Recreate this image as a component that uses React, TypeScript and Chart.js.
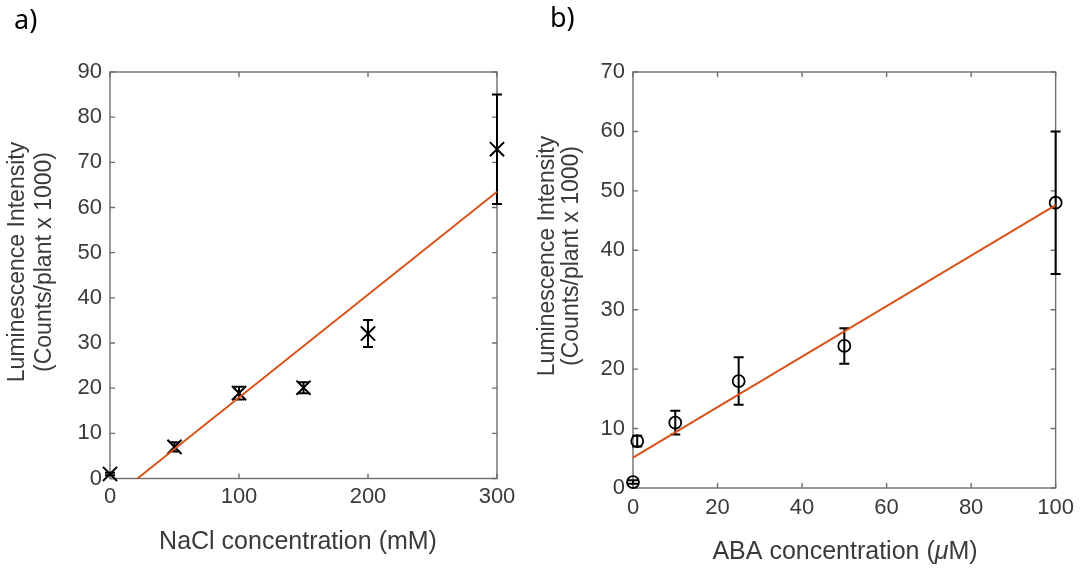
import React, { useEffect, useRef } from "react";
import { Chart, registerables } from "chart.js";
Chart.register(...registerables);

// ---------- Panel a) NaCl ----------
const naclConc = [0, 50, 100, 150, 200, 300];
const naclLum = [1.0, 7.0, 18.9, 20.1, 32.1, 72.9];
const naclErr = [0.3, 1.0, 1.4, 1.2, 3.0, 12.1];
const naclFitX = [21.3, 300];
const naclFitY = [0, 63.5];
const naclXTicks = [0, 100, 200, 300];
const naclYTicks = [0, 10, 20, 30, 40, 50, 60, 70, 80, 90];

// ---------- Panel b) ABA ----------
const abaConc = [0, 1, 10, 25, 50, 100];
const abaLum = [1.0, 7.9, 11.0, 18.0, 23.9, 48.0];
const abaErr = [0.3, 0.9, 2.0, 4.0, 3.0, 12.0];
const abaFitX = [0, 100];
const abaFitY = [5.1, 47.6];
const abaXTicks = [0, 20, 40, 60, 80, 100];
const abaYTicks = [0, 10, 20, 30, 40, 50, 60, 70];

const yTitleLines = ["Luminescence Intensity", "(Counts/plant x 1000)"];

const FONT = "'Liberation Sans', Arial, Helvetica, sans-serif";
const AXIS_COLOR = "#6e6e6e";
const TEXT_COLOR = "#3a3a3a";
const FIT_COLOR = "#D95319";

type Part = { text: string; italic?: boolean };

type PanelCfg = {
  xs: number[];
  ys: number[];
  errs: number[];
  fitX: number[];
  fitY: number[];
  xTicks: number[];
  yTicks: number[];
  xMax: number;
  yMax: number;
  marker: string;
  markerRadius: number;
  markerWidth: number;
  padTop: number;
  padRight: number;
  yWidth: number;
  xHeight: number;
  xTickPad: number;
  panelLabel: string;
  panelPos: [number, number];
  yTitlePos: [number, number, number];
  xTitle: Part[];
  xTitlePos: [number, number];
};

function drawRich(ctx: CanvasRenderingContext2D, parts: Part[], cx: number, y: number, size: number) {
  const fontFor = (p: Part) => `${p.italic ? "italic " : ""}${size}px ${FONT}`;
  let total = 0;
  const widths = parts.map((p) => {
    ctx.font = fontFor(p);
    const w = ctx.measureText(p.text).width;
    total += w;
    return w;
  });
  let x = cx - total / 2;
  ctx.textAlign = "left";
  parts.forEach((p, i) => {
    ctx.font = fontFor(p);
    ctx.fillText(p.text, x, y);
    x += widths[i];
  });
}

function makeChart(canvas: HTMLCanvasElement, c: PanelCfg) {
  const tickFont = { family: FONT, size: 22 };
  const decorPlugin = {
    id: "decor",
    beforeDatasetsDraw(chart: any) {
      const { ctx, chartArea } = chart;
      const { left, right, top, bottom } = chartArea;
      const xs = chart.scales.x;
      const ys = chart.scales.y;
      ctx.save();
      ctx.strokeStyle = AXIS_COLOR;
      ctx.lineWidth = 1.4;
      ctx.strokeRect(left, top, right - left, bottom - top);
      const tl = 5;
      ctx.beginPath();
      xs.ticks.forEach((t: any) => {
        const px = xs.getPixelForValue(t.value);
        ctx.moveTo(px, bottom);
        ctx.lineTo(px, bottom - tl);
        ctx.moveTo(px, top);
        ctx.lineTo(px, top + tl);
      });
      ys.ticks.forEach((t: any) => {
        const py = ys.getPixelForValue(t.value);
        ctx.moveTo(left, py);
        ctx.lineTo(left + tl, py);
        ctx.moveTo(right, py);
        ctx.lineTo(right - tl, py);
      });
      ctx.stroke();
      // error bars
      ctx.strokeStyle = "#000";
      ctx.lineWidth = 2;
      const cap = 5;
      ctx.beginPath();
      c.xs.forEach((xv, i) => {
        const px = xs.getPixelForValue(xv);
        const hi = ys.getPixelForValue(c.ys[i] + c.errs[i]);
        const lo = ys.getPixelForValue(c.ys[i] - c.errs[i]);
        ctx.moveTo(px, hi);
        ctx.lineTo(px, lo);
        ctx.moveTo(px - cap, hi);
        ctx.lineTo(px + cap, hi);
        ctx.moveTo(px - cap, lo);
        ctx.lineTo(px + cap, lo);
      });
      ctx.stroke();
      ctx.restore();
    },
    afterDraw(chart: any) {
      const { ctx } = chart;
      ctx.save();
      ctx.fillStyle = "#000";
      ctx.font = `27px 'Noto Sans', 'Open Sans', sans-serif`;
      ctx.textAlign = "left";
      ctx.textBaseline = "middle";
      ctx.fillText(c.panelLabel, c.panelPos[0], c.panelPos[1]);

      ctx.fillStyle = TEXT_COLOR;
      ctx.font = `23px ${FONT}`;
      ctx.textAlign = "center";
      ctx.textBaseline = "middle";
      const [x1, x2, yc] = c.yTitlePos;
      [x1, x2].forEach((xx, i) => {
        ctx.save();
        ctx.translate(xx, yc);
        ctx.rotate(-Math.PI / 2);
        ctx.fillText(yTitleLines[i], 0, 0);
        ctx.restore();
      });
      ctx.textBaseline = "alphabetic";
      drawRich(ctx, c.xTitle, c.xTitlePos[0], c.xTitlePos[1], 25);
      ctx.restore();
    },
  };

  return new Chart(canvas, {
    type: "scatter",
    data: {
      datasets: [
        {
          type: "line",
          data: c.fitX.map((x, i) => ({ x, y: c.fitY[i] })),
          borderColor: FIT_COLOR,
          borderWidth: 2,
          pointRadius: 0,
          fill: false,
          clip: false,
        } as any,
        {
          type: "scatter",
          data: c.xs.map((x, i) => ({ x, y: c.ys[i] })),
          pointStyle: c.marker,
          pointRadius: c.markerRadius,
          pointBorderColor: "#000",
          pointBackgroundColor: "rgba(0,0,0,0)",
          pointBorderWidth: c.markerWidth,
          clip: false,
        } as any,
      ],
    },
    options: {
      responsive: false,
      animation: false,
      events: [],
      layout: { padding: { left: 0, top: c.padTop, right: c.padRight, bottom: 0 } },
      plugins: { legend: { display: false }, tooltip: { enabled: false } },
      scales: {
        x: {
          type: "linear",
          min: 0,
          max: c.xMax,
          grid: { display: false, drawTicks: false },
          border: { display: false },
          afterBuildTicks: (s: any) => {
            s.ticks = c.xTicks.map((v) => ({ value: v }));
          },
          afterFit: (s: any) => {
            s.height = c.xHeight;
          },
          ticks: { font: tickFont, color: TEXT_COLOR, padding: c.xTickPad, maxRotation: 0, autoSkip: false },
        },
        y: {
          type: "linear",
          min: 0,
          max: c.yMax,
          grid: { display: false, drawTicks: false },
          border: { display: false },
          afterBuildTicks: (s: any) => {
            s.ticks = c.yTicks.map((v) => ({ value: v }));
          },
          afterFit: (s: any) => {
            s.width = c.yWidth;
          },
          ticks: { font: tickFont, color: TEXT_COLOR, padding: 8, autoSkip: false },
        },
      },
    } as any,
    plugins: [decorPlugin],
  });
}

const panelA: PanelCfg = {
  xs: naclConc,
  ys: naclLum,
  errs: naclErr,
  fitX: naclFitX,
  fitY: naclFitY,
  xTicks: naclXTicks,
  yTicks: naclYTicks,
  xMax: 300,
  yMax: 90,
  marker: "crossRot",
  markerRadius: 10,
  markerWidth: 2,
  padTop: 72,
  padRight: 33,
  yWidth: 110,
  xHeight: 90.5,
  xTickPad: 5,
  panelLabel: "a)",
  panelPos: [14, 21],
  yTitlePos: [18, 44.5, 262],
  xTitle: [{ text: "NaCl concentration (mM)" }],
  xTitlePos: [298, 548.5],
};

const panelB: PanelCfg = {
  xs: abaConc,
  ys: abaLum,
  errs: abaErr,
  fitX: abaFitX,
  fitY: abaFitY,
  xTicks: abaXTicks,
  yTicks: abaYTicks,
  xMax: 100,
  yMax: 70,
  marker: "circle",
  markerRadius: 6,
  markerWidth: 1.8,
  padTop: 72,
  padRight: 24,
  yWidth: 103,
  xHeight: 81,
  xTickPad: 7,
  panelLabel: "b)",
  panelPos: [20, 19],
  yTitlePos: [17.3, 41.7, 256],
  xTitle: [{ text: "ABA concentration (" }, { text: "\u03bc", italic: true }, { text: "M)" }],
  xTitlePos: [315, 559],
};

export default function App() {
  const refA = useRef<HTMLCanvasElement>(null);
  const refB = useRef<HTMLCanvasElement>(null);
  useEffect(() => {
    const a = makeChart(refA.current!, panelA);
    const b = makeChart(refB.current!, panelB);
    return () => {
      a.destroy();
      b.destroy();
    };
  }, []);
  return (
    <div style={{ position: "absolute", left: 0, top: 0, width: 1081, height: 569, background: "#fff" }}>
      <canvas ref={refA} width={530} height={569} style={{ position: "absolute", left: 0, top: 0 }} />
      <canvas ref={refB} width={551} height={569} style={{ position: "absolute", left: 530, top: 0 }} />
    </div>
  );
}
